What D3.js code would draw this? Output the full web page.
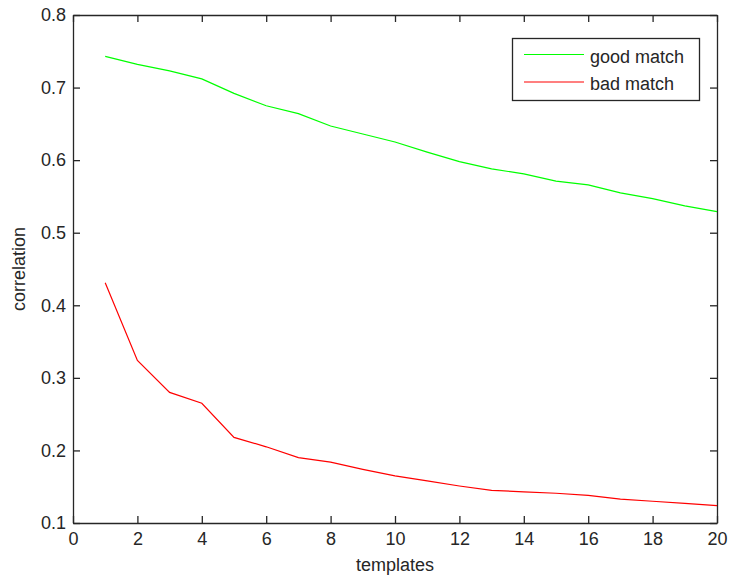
<!DOCTYPE html>
<html>
<head>
<meta charset="utf-8">
<script src="https://cdn.jsdelivr.net/npm/d3@7"></script>
<style>
  html, body { margin: 0; padding: 0; background: #fff; }
  svg text { font-family: "Liberation Sans", Arial, Helvetica, sans-serif; fill: #262626; }
</style>
</head>
<body>
<svg id="chart" width="729" height="580"></svg>
<script>
// Number of templates used
const templates = [1, 2, 3, 4, 5, 6, 7, 8, 9, 10, 11, 12, 13, 14, 15, 16, 17, 18, 19, 20];
// Correlation for a good match
const goodMatch = [0.743, 0.732, 0.723, 0.712, 0.692, 0.675, 0.664, 0.647, 0.636, 0.625,
                   0.611, 0.598, 0.588, 0.581, 0.571, 0.566, 0.555, 0.547, 0.537, 0.529];
// Correlation for a bad match
const badMatch = [0.431, 0.324, 0.280, 0.265, 0.218, 0.205, 0.190, 0.184, 0.174, 0.165,
                  0.158, 0.151, 0.145, 0.143, 0.141, 0.138, 0.133, 0.130, 0.127, 0.124];
const xTicks = [0, 2, 4, 6, 8, 10, 12, 14, 16, 18, 20];
const yTicks = [0.1, 0.2, 0.3, 0.4, 0.5, 0.6, 0.7, 0.8];
const seriesNames = ["good match", "bad match"];
const seriesColors = ["#00ff00", "#ff0000"];

const svg = d3.select("#chart");
const plotLeft = 73, plotRight = 717, plotTop = 15, plotBottom = 523;

const x = d3.scaleLinear().domain([0, 20]).range([plotLeft, plotRight]);
const y = d3.scaleLinear().domain([0.1, 0.8]).range([plotBottom, plotTop]);

const axisColor = "#262626";
const fontSize = 18;

function styleAxis(g) {
  g.selectAll("path.domain").attr("stroke", axisColor).attr("stroke-width", 1.3);
  g.selectAll(".tick line").attr("stroke", axisColor).attr("stroke-width", 1.3);
  g.selectAll(".tick text").attr("font-size", fontSize).attr("fill", axisColor)
    .attr("font-family", "'Liberation Sans', Arial, Helvetica, sans-serif");
}

// Bottom axis with labels, ticks pointing inward
svg.append("g").attr("transform", `translate(0,${plotBottom})`)
  .call(d3.axisBottom(x).tickValues(xTicks).tickFormat(d3.format("d"))
    .tickSizeInner(-7).tickSizeOuter(0).tickPadding(9))
  .call(styleAxis);
// Top axis: ticks only
svg.append("g").attr("transform", `translate(0,${plotTop})`)
  .call(d3.axisTop(x).tickValues(xTicks).tickFormat("")
    .tickSizeInner(-7).tickSizeOuter(0))
  .call(styleAxis);
// Left axis with labels
svg.append("g").attr("transform", `translate(${plotLeft},0)`)
  .call(d3.axisLeft(y).tickValues(yTicks).tickFormat(d3.format(".1f"))
    .tickSizeInner(-7).tickSizeOuter(0).tickPadding(7))
  .call(styleAxis);
// Right axis: ticks only
svg.append("g").attr("transform", `translate(${plotRight},0)`)
  .call(d3.axisRight(y).tickValues(yTicks).tickFormat("")
    .tickSizeInner(-7).tickSizeOuter(0))
  .call(styleAxis);

// Axis titles
svg.append("text")
  .attr("x", (plotLeft + plotRight) / 2).attr("y", 571)
  .attr("text-anchor", "middle").attr("font-size", fontSize)
  .text("templates");
svg.append("text")
  .attr("transform", `translate(25,${(plotTop + plotBottom) / 2}) rotate(-90)`)
  .attr("text-anchor", "middle").attr("font-size", fontSize)
  .text("correlation");

// Series lines
const line = d3.line().x((d, i) => x(templates[i])).y(d => y(d));
[goodMatch, badMatch].forEach((vals, k) => {
  svg.append("path")
    .datum(vals)
    .attr("fill", "none")
    .attr("stroke", seriesColors[k])
    .attr("stroke-width", 1.2)
    .attr("d", line);
});

// Legend
const legend = svg.append("g");
legend.append("rect")
  .attr("x", 512.5).attr("y", 38.5).attr("width", 187).attr("height", 62)
  .attr("fill", "#fff").attr("stroke", axisColor).attr("stroke-width", 1.3);
seriesNames.forEach((name, k) => {
  const cy = 54.5 + k * 27.5;
  legend.append("line")
    .attr("x1", 524).attr("x2", 584).attr("y1", cy).attr("y2", cy)
    .attr("stroke", seriesColors[k]).attr("stroke-width", 1.2);
  legend.append("text")
    .attr("x", 590).attr("y", cy + 8)
    .attr("font-size", fontSize)
    .text(name);
});
</script>
</body>
</html>
